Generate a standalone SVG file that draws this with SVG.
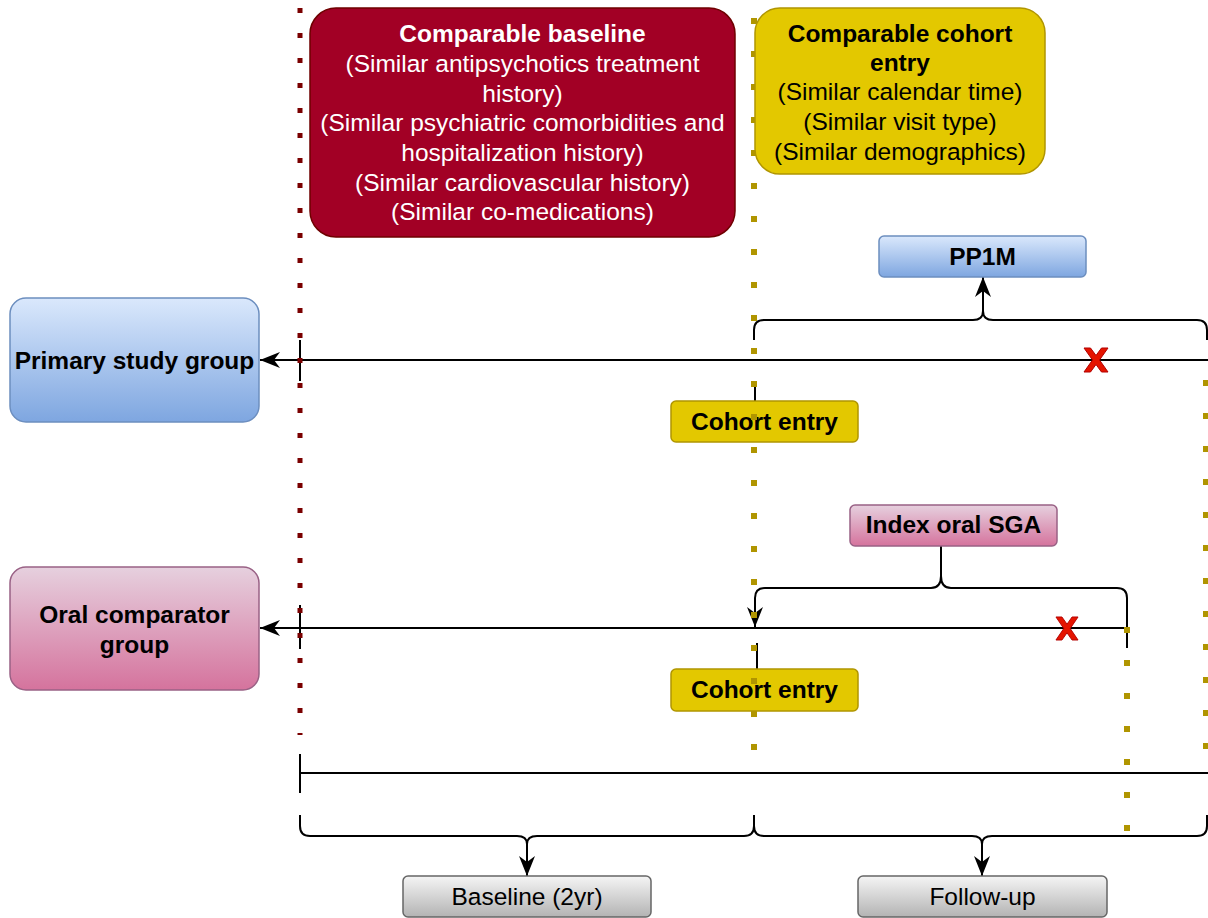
<svg xmlns="http://www.w3.org/2000/svg" xmlns:xlink="http://www.w3.org/1999/xlink" width="1208" height="918" viewBox="0 0 1208 918">
<style>
text{font-family:"Liberation Sans",Arial,sans-serif;font-size:24.5px;text-anchor:middle}
.b{font-weight:bold}
.w{fill:#ffffff}
.k{fill:#000000}
.ln{fill:none;stroke:#000;stroke-width:2}
.dr{stroke:#7a0000;stroke-width:5;stroke-dasharray:5 20;fill:none}
.dg{stroke:#b09500;stroke-width:6;stroke-dasharray:6 27;fill:none}
.gold{fill:#e3c800;stroke:#b09500;stroke-width:1.5}
.blue{fill:url(#gBlue);stroke:#6c8ebf;stroke-width:1.5}
.pink{fill:url(#gPink);stroke:#996185;stroke-width:1.5}
.gray{fill:url(#gGray);stroke:#666666;stroke-width:1.5}
.red{fill:#a20025;stroke:#6f0000;stroke-width:1.5}
</style>
<defs>
<linearGradient id="gBlue" x1="0" y1="0" x2="0" y2="1"><stop offset="0" stop-color="#dae8fc"/><stop offset="1" stop-color="#7ea6e0"/></linearGradient>
<linearGradient id="gPink" x1="0" y1="0" x2="0" y2="1"><stop offset="0" stop-color="#e6d0de"/><stop offset="1" stop-color="#d5739d"/></linearGradient>
<linearGradient id="gGray" x1="0" y1="0" x2="0" y2="1"><stop offset="0" stop-color="#f5f5f5"/><stop offset="1" stop-color="#b3b3b3"/></linearGradient>
<marker id="arr" viewBox="0 0 20 16" refX="20" refY="8" markerWidth="20" markerHeight="16" markerUnits="userSpaceOnUse" orient="auto">
<path d="M0,0 L20,8 L0,16 L6,8 z" fill="#000"/>
</marker>
<path id="xmark" d="M-12,-12 L-5.5,-12 L0,-4.5 L5.5,-12 L12,-12 L3.5,0 L12,12 L5.5,12 L0,4.5 L-5.5,12 L-12,12 L-3.5,0 z" fill="#e51400" stroke="#b20000" stroke-width="1"/>
</defs>
<rect width="1208" height="918" fill="#ffffff"/>

<g id="connectors">
<line class="ln" x1="1208" y1="360" x2="260" y2="360" marker-end="url(#arr)"/>
<line class="ln" x1="300" y1="340" x2="300" y2="381"/>
<line class="ln" x1="1127" y1="628" x2="260" y2="628" marker-end="url(#arr)"/>
<line class="ln" x1="300" y1="605" x2="300" y2="649"/>
<line class="ln" x1="300" y1="773" x2="1208" y2="773"/>
<line class="ln" x1="300" y1="754" x2="300" y2="793"/>
<path class="ln" d="M754,340 V330 Q754,320 764,320 H973 Q983,320 983,311 Q983,320 993,320 H1197 Q1207,320 1207,330 V340"/>
<line class="ln" x1="983" y1="311" x2="983" y2="277" marker-end="url(#arr)"/>
<line class="ln" x1="941" y1="546" x2="941" y2="576"/>
<path class="ln" d="M1127,648 V598 Q1127,588 1117,588 H951 Q941,588 941,576 Q941,588 931,588 H765 Q755,588 755,598 V627" marker-end="url(#arr)"/>
<line class="ln" x1="755" y1="385" x2="755" y2="401"/>
<line class="ln" x1="757" y1="643" x2="757" y2="669"/>
<path class="ln" d="M300,815 V826 Q300,836 310,836 H517 Q527,836 527,844 Q527,836 537,836 H744 Q754,836 754,826 V815"/>
<path class="ln" d="M754,815 V826 Q754,836 764,836 H972 Q982,836 982,844 Q982,836 992,836 H1197 Q1207,836 1207,826 V815"/>
<line class="ln" x1="527" y1="844" x2="527" y2="876" marker-end="url(#arr)"/>
<line class="ln" x1="982" y1="844" x2="982" y2="876" marker-end="url(#arr)"/>
<use href="#xmark" xlink:href="#xmark" transform="translate(1096,360)"/>
<use href="#xmark" xlink:href="#xmark" transform="translate(1067,628.5) scale(0.92,0.96)"/>
</g>

<g id="cohort-entry-1">
<rect class="gold" x="671" y="401" width="187" height="41" rx="5"/>
<text class="b k" x="764.5" y="430">Cohort entry</text>
</g>
<g id="cohort-entry-2">
<rect class="gold" x="671" y="669" width="187" height="42" rx="5"/>
<text class="b k" x="764.5" y="698">Cohort entry</text>
</g>

<g id="guides">
<line class="dr" x1="300" y1="8" x2="300" y2="735"/>
<line class="dg" x1="754" y1="18" x2="754" y2="752"/>
<line class="dg" x1="1127" y1="627" x2="1127" y2="832"/>
<line class="dg" x1="1206" y1="380" x2="1206" y2="752"/>
</g>

<g id="comparable-baseline">
<rect class="red" x="310" y="8" width="425" height="229" rx="26"/>
<text class="w b" x="522.5" y="42">Comparable baseline</text>
<text class="w" x="522.5" y="71.5">(Similar antipsychotics treatment</text>
<text class="w" x="522.5" y="101.5">history)</text>
<text class="w" x="522.5" y="130.5">(Similar psychiatric comorbidities and</text>
<text class="w" x="522.5" y="160.5">hospitalization history)</text>
<text class="w" x="522.5" y="190.5">(Similar cardiovascular history)</text>
<text class="w" x="522.5" y="219.5">(Similar co-medications)</text>
</g>

<g id="comparable-cohort-entry">
<rect class="gold" x="755" y="8" width="290" height="166" rx="25"/>
<text class="b k" x="900" y="41.5">Comparable cohort</text>
<text class="b k" x="900" y="70.5">entry</text>
<text class="k" x="900" y="99.5">(Similar calendar time)</text>
<text class="k" x="900" y="130">(Similar visit type)</text>
<text class="k" x="900" y="159.5">(Similar demographics)</text>
</g>

<g id="pp1m">
<rect class="blue" x="879" y="236" width="207" height="41" rx="5"/>
<text class="b k" x="982.5" y="265">PP1M</text>
</g>

<g id="primary-study-group">
<rect class="blue" x="10" y="298" width="249" height="124" rx="16"/>
<text class="b k" x="134.5" y="369">Primary study group</text>
</g>

<g id="index-oral-sga">
<rect class="pink" x="850" y="505" width="207" height="41" rx="5"/>
<text class="b k" x="953.5" y="533">Index oral SGA</text>
</g>

<g id="oral-comparator-group">
<rect class="pink" x="10" y="567" width="249" height="123" rx="16"/>
<text class="b k" x="134.5" y="623">Oral comparator</text>
<text class="b k" x="134.5" y="653">group</text>
</g>

<g id="baseline">
<rect class="gray" x="403" y="876" width="248" height="41" rx="5"/>
<text class="k" x="527" y="905">Baseline (2yr)</text>
</g>

<g id="follow-up">
<rect class="gray" x="858" y="876" width="249" height="41" rx="5"/>
<text class="k" x="982.5" y="905">Follow-up</text>
</g>
</svg>
